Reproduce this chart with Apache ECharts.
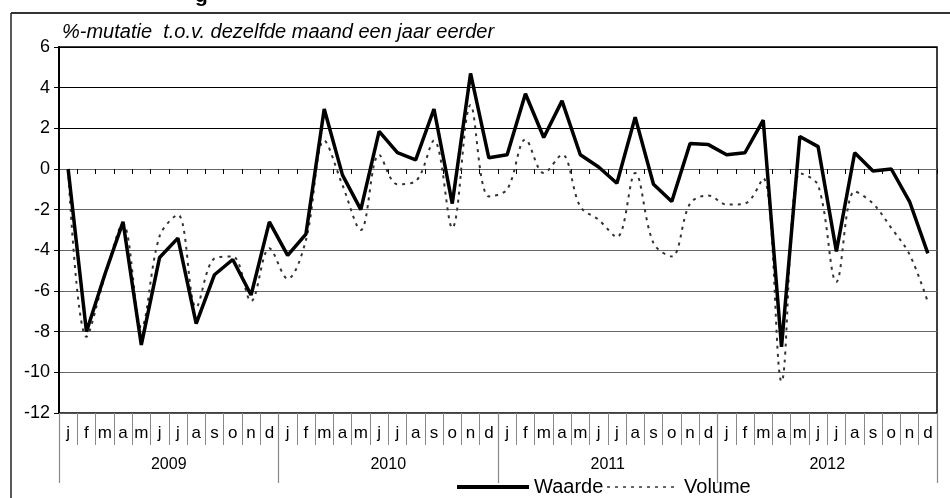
<!DOCTYPE html>
<html>
<head>
<meta charset="utf-8">
<script src="https://cdn.jsdelivr.net/npm/echarts@6/dist/echarts.min.js"></script>
<style>
  html, body { margin: 0; padding: 0; background: #fff; }
  #chart { width: 950px; height: 498px; }
</style>
</head>
<body>
<div id="chart"></div>
<script>
// ---- data ----
const monthLetters = ['j','f','m','a','m','j','j','a','s','o','n','d'];
const years = ['2009','2010','2011','2012'];
const months = [].concat(monthLetters, monthLetters, monthLetters, monthLetters);
const waarde = [
  0, -8.0, -5.2, -2.6, -8.65, -4.35, -3.4, -7.6, -5.2, -4.45, -6.2, -2.6,
  -4.25, -3.2, 2.95, -0.3, -2.0, 1.85, 0.8, 0.45, 2.95, -1.7, 4.7, 0.55,
  0.7, 3.7, 1.55, 3.35, 0.7, 0.1, -0.7, 2.55, -0.75, -1.6, 1.25, 1.2,
  0.7, 0.8, 2.4, -8.75, 1.6, 1.1, -4.05, 0.8, -0.1, 0.0, -1.6, -4.15
];
const volume = [
  0, -8.25, -5.3, -2.7, -7.8, -3.3, -2.25, -6.8, -4.4, -4.3, -6.5, -3.9,
  -5.4, -3.5, 1.4, -0.8, -3.0, 0.7, -0.75, -0.6, 1.4, -2.9, 3.15, -1.35,
  -1.0, 1.45, -0.2, 0.7, -1.85, -2.5, -3.35, -0.2, -3.65, -4.3, -1.7, -1.3,
  -1.75, -1.7, -0.45, -10.45, -0.2, -0.8, -5.55, -1.1, -1.7, -2.9, -4.2, -6.55
];
const seriesNames = ['Waarde', 'Volume'];
const yTitle = '%-mutatie  t.o.v. dezelfde maand een jaar eerder';

const FONT = '"Liberation Sans", Arial, sans-serif';
const chart = echarts.init(document.getElementById('chart'), null, { renderer: 'canvas' });

chart.setOption({
  animation: false,
  backgroundColor: '#fff',
  textStyle: { fontFamily: FONT, color: '#000' },
  graphic: [
    { type: 'line', shape: { x1: 11, y1: 13, x2: 950, y2: 13 }, style: { stroke: '#333', lineWidth: 2 } },
    { type: 'line', shape: { x1: 11, y1: 13, x2: 11, y2: 498 }, style: { stroke: '#222', lineWidth: 1.5 } },
    { type: 'text', left: 195, top: -14, style: { text: 'g', font: 'bold 21px ' + FONT, fill: '#000' } },
    { type: 'text', left: 62, top: 22, style: { text: yTitle, font: 'italic 20px ' + FONT, fill: '#000' } }
  ],
  grid: {
    left: 59, right: 13, top: 47, bottom: 85,
    show: true, borderColor: '#000', borderWidth: 1.5, backgroundColor: 'transparent'
  },
  legend: {
    data: [
      { name: seriesNames[0], lineStyle: { width: 4, color: '#000' } },
      { name: seriesNames[1], lineStyle: { width: 1.5, color: '#333', type: [3, 5] } }
    ],
    left: 455, top: 477,
    padding: 0,
    itemGap: 3,
    itemWidth: 72,
    itemHeight: 12,
    itemStyle: { opacity: 0 },
    textStyle: { fontSize: 20, fontFamily: FONT, color: '#000' }
  },
  xAxis: [
    {
      type: 'category', data: months, position: 'bottom', boundaryGap: true,
      axisLine: { onZero: false, lineStyle: { color: '#555', width: 1 } },
      axisTick: { show: true, interval: 0, length: 32, lineStyle: { color: '#888', width: 1 } },
      axisLabel: { interval: 0, margin: 12, fontSize: 17, color: '#000', fontFamily: FONT },
      splitLine: { show: false }
    },
    {
      type: 'category', data: years, position: 'bottom', boundaryGap: true,
      axisLine: { onZero: false, show: false },
      axisTick: { show: true, interval: 0, length: 70, lineStyle: { color: '#888', width: 1.2 } },
      axisLabel: { interval: 0, margin: 44, fontSize: 16, color: '#000', fontFamily: FONT },
      splitLine: { show: false }
    },
    {
      type: 'category', data: months, position: 'bottom', boundaryGap: true,
      axisLine: { onZero: true, show: true, lineStyle: { color: '#666', width: 1 } },
      axisTick: { show: true, interval: 0, length: 5, lineStyle: { color: '#000', width: 1 } },
      axisLabel: { show: false },
      splitLine: { show: false }
    }
  ],
  yAxis: {
    type: 'value', min: -12, max: 6, interval: 2,
    axisLine: { show: true, lineStyle: { color: '#000', width: 2 } },
    axisTick: { show: true, length: 5, lineStyle: { color: '#000' } },
    axisLabel: { fontSize: 18, color: '#000', margin: 9, fontFamily: FONT },
    splitLine: { show: true, lineStyle: { color: ['#666','#666','#666','#666','#666','#666','#666','#000','#000','#000'], width: 1 } }
  },
  series: [
    {
      name: 'Waarde', type: 'line', data: waarde, xAxisIndex: 0, z: 4,
      symbol: 'none', smooth: false,
      lineStyle: { color: '#000', width: 3.5 },
      itemStyle: { color: '#000' }
    },
    {
      name: 'Volume', type: 'line', data: volume, xAxisIndex: 0, z: 3,
      symbol: 'none', smooth: 0.35,
      lineStyle: { color: '#333', width: 2, type: [3, 5] },
      itemStyle: { color: '#333' }
    }
  ]
});
</script>
</body>
</html>
